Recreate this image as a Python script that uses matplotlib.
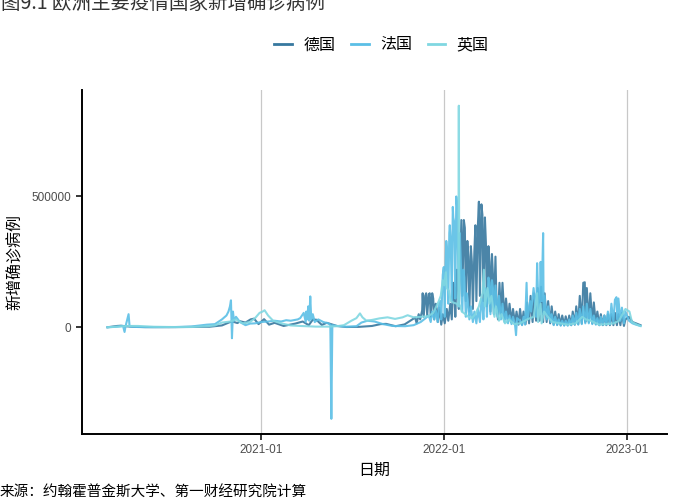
import matplotlib
matplotlib.use('Agg')
import matplotlib.pyplot as plt
import matplotlib.dates as mdates
import numpy as np
import pandas as pd

plt.rcParams['font.family'] = ['Noto Sans CJK SC', 'DejaVu Sans']

# DATA (daily new cases, thousands) ------------------------------------------

de_dates = ['2020-03-01', '2020-03-20', '2020-03-28', '2020-04-05', '2020-04-20', '2020-05-15',
            '2020-07-01', '2020-08-15', '2020-09-20', '2020-10-15', '2020-10-30', '2020-11-05',
            '2020-11-15', '2020-11-20', '2020-12-01', '2020-12-11', '2020-12-18', '2020-12-27',
            '2021-01-07', '2021-01-17', '2021-01-28', '2021-02-15', '2021-03-10', '2021-03-25',
            '2021-04-06', '2021-04-14', '2021-04-21', '2021-05-02', '2021-05-12', '2021-06-01',
            '2021-06-20', '2021-07-15', '2021-08-10', '2021-08-27', '2021-09-07', '2021-09-26',
            '2021-10-14', '2021-10-28', '2021-11-04', '2021-11-07', '2021-11-11', '2021-11-14',
            '2021-11-18', '2021-11-19', '2021-11-21', '2021-11-24', '2021-11-26', '2021-11-28',
            '2021-12-01', '2021-12-03', '2021-12-05', '2021-12-08', '2021-12-10', '2021-12-12',
            '2021-12-15', '2021-12-17', '2021-12-19', '2021-12-22', '2021-12-26', '2021-12-29',
            '2022-01-02', '2022-01-06', '2022-01-09', '2022-01-13', '2022-01-16', '2022-01-19',
            '2022-01-21', '2022-01-23', '2022-01-26', '2022-01-28', '2022-01-30', '2022-02-02',
            '2022-02-04', '2022-02-06', '2022-02-09', '2022-02-11', '2022-02-13', '2022-02-16',
            '2022-02-18', '2022-02-20', '2022-02-23', '2022-02-25', '2022-02-27', '2022-03-02',
            '2022-03-04', '2022-03-06', '2022-03-09', '2022-03-11', '2022-03-13', '2022-03-16',
            '2022-03-18', '2022-03-20', '2022-03-23', '2022-03-25', '2022-03-27', '2022-03-30',
            '2022-04-01', '2022-04-03', '2022-04-06', '2022-04-08', '2022-04-10', '2022-04-13',
            '2022-04-15', '2022-04-18', '2022-04-21', '2022-04-24', '2022-04-27', '2022-05-01',
            '2022-05-04', '2022-05-08', '2022-05-11', '2022-05-15', '2022-05-18', '2022-05-22',
            '2022-05-25', '2022-05-29', '2022-06-01', '2022-06-05', '2022-06-08', '2022-06-12',
            '2022-06-15', '2022-06-19', '2022-06-22', '2022-06-26', '2022-06-29', '2022-07-03',
            '2022-07-06', '2022-07-10', '2022-07-13', '2022-07-17', '2022-07-20', '2022-07-24',
            '2022-07-27', '2022-07-31', '2022-08-03', '2022-08-07', '2022-08-10', '2022-08-14',
            '2022-08-17', '2022-08-21', '2022-08-24', '2022-08-28', '2022-08-31', '2022-09-04',
            '2022-09-07', '2022-09-11', '2022-09-14', '2022-09-18', '2022-09-21', '2022-09-25',
            '2022-09-28', '2022-10-02', '2022-10-05', '2022-10-08', '2022-10-09', '2022-10-12',
            '2022-10-16', '2022-10-19', '2022-10-23', '2022-10-26', '2022-10-30', '2022-11-02',
            '2022-11-06', '2022-11-09', '2022-11-13', '2022-11-16', '2022-11-20', '2022-11-23',
            '2022-11-27', '2022-11-30', '2022-12-04', '2022-12-07', '2022-12-11', '2022-12-14',
            '2022-12-18', '2022-12-21', '2022-12-25', '2022-12-28', '2023-01-04', '2023-01-11',
            '2023-01-18', '2023-01-27']
de_vals = [0, 5, 6, 4, 2, 0.5,
           0.4, 1.5, 2, 7, 19, 22,
           16, 23, 18, 30, 33, 12,
           31, 10, 17, 5, 14, 22,
           8, 29, 29, 9, 17, 5,
           1, 1.5, 5, 12, 13, 4,
           11, 28, 37, 15, 50, 30,
           65, 130, 40, 120, 130, 45,
           125, 130, 40, 130, 110, 30,
           90, 70, 20, 75, 10, 50,
           15, 70, 25, 90, 30, 170,
           150, 40, 220, 200, 70, 280,
           410, 120, 410, 380, 100, 330,
           270, 60, 310, 250, 70, 290,
           390, 100, 390, 480, 120, 470,
           430, 100, 420, 320, 80, 310,
           250, 60, 280, 200, 50, 270,
           100, 30, 170, 40, 170, 30,
           110, 25, 90, 20, 70, 15,
           60, 10, 70, 10, 60, 12,
           95, 15, 120, 20, 130, 25,
           150, 25, 155, 20, 130, 20,
           100, 15, 80, 10, 60, 10,
           50, 8, 45, 8, 42, 8,
           45, 8, 60, 10, 80, 12,
           120, 15, 170, 172, 20, 150,
           20, 130, 15, 95, 12, 60,
           8, 50, 8, 45, 8, 50,
           8, 50, 8, 55, 8, 50,
           8, 55, 5, 30, 40, 20,
           15, 8]

fr_dates = ['2020-03-01', '2020-03-20', '2020-04-01', '2020-04-04', '2020-04-06', '2020-04-12',
            '2020-04-14', '2020-04-20', '2020-05-01', '2020-06-01', '2020-07-15', '2020-08-15',
            '2020-09-01', '2020-09-15', '2020-10-01', '2020-10-15', '2020-10-24', '2020-10-28',
            '2020-10-31', '2020-11-02', '2020-11-04', '2020-11-06', '2020-11-08', '2020-11-12',
            '2020-11-20', '2020-12-01', '2020-12-10', '2020-12-20', '2021-01-01', '2021-01-15',
            '2021-01-28', '2021-02-10', '2021-02-20', '2021-03-01', '2021-03-15', '2021-03-20',
            '2021-03-27', '2021-03-31', '2021-04-01', '2021-04-03', '2021-04-05', '2021-04-07',
            '2021-04-09', '2021-04-11', '2021-04-14', '2021-04-18', '2021-04-25', '2021-05-05',
            '2021-05-15', '2021-05-19', '2021-05-21', '2021-05-23', '2021-06-01', '2021-06-20',
            '2021-07-10', '2021-07-20', '2021-08-01', '2021-08-15', '2021-09-01', '2021-09-20',
            '2021-10-15', '2021-11-01', '2021-11-15', '2021-11-25', '2021-12-01', '2021-12-05',
            '2021-12-08', '2021-12-12', '2021-12-15', '2021-12-19', '2021-12-22', '2021-12-25',
            '2021-12-26', '2021-12-29', '2021-12-31', '2022-01-02', '2022-01-04', '2022-01-05',
            '2022-01-07', '2022-01-09', '2022-01-11', '2022-01-12', '2022-01-14', '2022-01-16',
            '2022-01-18', '2022-01-19', '2022-01-21', '2022-01-23', '2022-01-25', '2022-01-27',
            '2022-01-30', '2022-02-01', '2022-02-03', '2022-02-06', '2022-02-08', '2022-02-10',
            '2022-02-13', '2022-02-15', '2022-02-17', '2022-02-20', '2022-02-23', '2022-02-27',
            '2022-03-02', '2022-03-06', '2022-03-09', '2022-03-13', '2022-03-16', '2022-03-18',
            '2022-03-20', '2022-03-23', '2022-03-25', '2022-03-27', '2022-03-30', '2022-04-01',
            '2022-04-03', '2022-04-06', '2022-04-08', '2022-04-10', '2022-04-13', '2022-04-17',
            '2022-04-20', '2022-04-24', '2022-04-27', '2022-05-01', '2022-05-04', '2022-05-08',
            '2022-05-11', '2022-05-15', '2022-05-18', '2022-05-22', '2022-05-24', '2022-05-26',
            '2022-06-01', '2022-06-05', '2022-06-08', '2022-06-11', '2022-06-14', '2022-06-16',
            '2022-06-21', '2022-06-23', '2022-06-28', '2022-06-30', '2022-07-03', '2022-07-05',
            '2022-07-07', '2022-07-10', '2022-07-12', '2022-07-14', '2022-07-17', '2022-07-18',
            '2022-07-20', '2022-07-24', '2022-07-27', '2022-08-01', '2022-08-03', '2022-08-07',
            '2022-08-10', '2022-08-14', '2022-08-17', '2022-08-21', '2022-08-24', '2022-08-28',
            '2022-08-31', '2022-09-04', '2022-09-07', '2022-09-11', '2022-09-14', '2022-09-18',
            '2022-09-21', '2022-09-25', '2022-09-28', '2022-10-02', '2022-10-05', '2022-10-09',
            '2022-10-12', '2022-10-16', '2022-10-19', '2022-10-23', '2022-10-26', '2022-10-30',
            '2022-11-02', '2022-11-06', '2022-11-09', '2022-11-13', '2022-11-16', '2022-11-20',
            '2022-11-23', '2022-11-27', '2022-11-30', '2022-12-04', '2022-12-07', '2022-12-10',
            '2022-12-12', '2022-12-14', '2022-12-18', '2022-12-21', '2022-12-25', '2022-12-28',
            '2023-01-04', '2023-01-11', '2023-01-18', '2023-01-27']
fr_vals = [0, 2, 5, -18, 4, 50,
           3, 2, 1, 0.5, 1, 3,
           7, 10, 12, 30, 45, 60,
           80, 103, -42, 60, 25, 40,
           20, 8, 14, 15, 20, 22,
           25, 22, 27, 25, 30, 35,
           55, 20, 60, 30, 80, 25,
           118, 30, 50, 20, 30, 20,
           15, 10, -350, 8, 5, 2,
           4, 18, 25, 22, 12, 5,
           4, 8, 20, 35, 45, 20,
           60, 30, 65, 20, 90, 100,
           30, 200, 230, 40, 270, 330,
           290, 90, 360, 390, 320, 100,
           460, 420, 400, 110, 500, 450,
           80, 360, 250, 60, 220, 190,
           40, 130, 100, 30, 80, 20,
           60, 15, 70, 20, 110, 90,
           30, 150, 140, 40, 190, 170,
           50, 180, 150, 50, 160, 40,
           120, 30, 90, 20, 60, 15,
           45, 12, 40, 10, -30, 35,
           25, 8, 40, 10, 170, 30,
           100, 60, 150, 110, 40, 245,
           120, 50, 250, 100, 360, 50,
           120, 30, 80, 20, 50, 8,
           40, 8, 30, 6, 25, 6,
           25, 6, 30, 8, 45, 10,
           55, 10, 70, 12, 80, 15,
           90, 15, 70, 12, 45, 10,
           35, 8, 40, 10, 45, 10,
           60, 12, 90, 20, 105, 115,
           30, 110, 25, 75, 15, 60,
           25, 15, 10, 5]

uk_dates = ['2020-03-01', '2020-04-10', '2020-05-01', '2020-06-01', '2020-07-15', '2020-08-15',
            '2020-09-15', '2020-10-01', '2020-10-15', '2020-11-01', '2020-11-12', '2020-11-25',
            '2020-12-10', '2020-12-20', '2020-12-29', '2021-01-04', '2021-01-08', '2021-01-15',
            '2021-01-25', '2021-02-10', '2021-03-01', '2021-03-20', '2021-04-20', '2021-05-15',
            '2021-06-01', '2021-06-15', '2021-06-30', '2021-07-10', '2021-07-17', '2021-07-22',
            '2021-07-30', '2021-08-10', '2021-08-25', '2021-09-10', '2021-09-25', '2021-10-10',
            '2021-10-20', '2021-11-01', '2021-11-15', '2021-11-30', '2021-12-10', '2021-12-15',
            '2021-12-20', '2021-12-25', '2021-12-29', '2022-01-01', '2022-01-04', '2022-01-06',
            '2022-01-10', '2022-01-14', '2022-01-18', '2022-01-26', '2022-01-29', '2022-01-30',
            '2022-01-31', '2022-02-05', '2022-02-12', '2022-02-18', '2022-02-25', '2022-03-04',
            '2022-03-11', '2022-03-18', '2022-03-21', '2022-03-23', '2022-03-28', '2022-04-01',
            '2022-04-05', '2022-04-11', '2022-04-14', '2022-04-20', '2022-04-25', '2022-05-02',
            '2022-05-10', '2022-05-20', '2022-06-01', '2022-06-15', '2022-06-28', '2022-07-05',
            '2022-07-07', '2022-07-12', '2022-07-14', '2022-07-19', '2022-07-26', '2022-08-05',
            '2022-08-20', '2022-09-05', '2022-09-20', '2022-10-03', '2022-10-10', '2022-10-20',
            '2022-11-05', '2022-11-20', '2022-12-05', '2022-12-15', '2022-12-28', '2023-01-05',
            '2023-01-10', '2023-01-20', '2023-01-27']
uk_vals = [0, 5, 5, 2, 0.7, 1,
           4, 7, 18, 22, 30, 15,
           20, 35, 55, 60, 65, 45,
           25, 15, 7, 5, 2.5, 2.5,
           4, 8, 25, 35, 53, 38,
           25, 28, 34, 38, 32, 38,
           46, 38, 40, 42, 55, 75,
           95, 120, 180, 160, 210, 150,
           140, 100, 95, 90, 80, 847,
           90, 60, 50, 40, 35, 50,
           80, 130, 220, 80, 150, 90,
           120, 40, 80, 25, 50, 15,
           30, 12, 15, 30, 40, 130,
           20, 90, 15, 60, 40, 20,
           15, 10, 15, 40, 30, 25,
           10, 12, 15, 25, 70, 60,
           20, 10, 5]

countries = ['德国', '法国', '英国']
colors = ['#37789f', '#5bbfe6', '#80d7e1']

# PLOT ------------------------------------------------------------------------

fig = plt.figure(figsize=(7, 5), dpi=100)
ax = fig.add_axes([0.117, 0.132, 0.836, 0.688])

for dates, vals, name, col in zip([de_dates, fr_dates, uk_dates],
                                  [de_vals, fr_vals, uk_vals], countries, colors):
    ax.plot(pd.to_datetime(dates), np.array(vals) * 1000, color=col, lw=1.5,
            alpha=0.9, label=name)

ax.set_xlim(pd.Timestamp('2020-01-10'), pd.Timestamp('2023-03-21'))
ax.set_ylim(-408000, 907000)
ax.set_yticks([0, 500000])
ax.set_yticklabels(['0', '500000'])
ax.xaxis.set_major_locator(mdates.YearLocator())
ax.xaxis.set_major_formatter(mdates.DateFormatter('%Y-%m'))
ax.grid(axis='x', color='#c8c8c8', lw=0.9)
ax.set_axisbelow(True)

for s in ['top', 'right']:
    ax.spines[s].set_visible(False)
for s in ['left', 'bottom']:
    ax.spines[s].set_linewidth(1.4)
    ax.spines[s].set_color('black')
ax.tick_params(length=4, width=1.1, color='black', labelcolor='#4d4d4d', labelsize=8.5)
for lab in ax.get_xticklabels() + ax.get_yticklabels():
    lab.set_family('Liberation Sans')

ax.set_xlabel('日期', fontsize=11.5, labelpad=4)
ax.set_ylabel('新增确诊病例', fontsize=11.5, labelpad=6)

leg = fig.legend(loc='center', bbox_to_anchor=(0.545, 0.91), ncol=3, frameon=False,
                 fontsize=11.5, handlelength=1.1, columnspacing=1.0, handletextpad=0.7)
for h in leg.get_lines():
    h.set_linewidth(2)
    h.set_alpha(1)

fig.text(0.002, 0.993, '图9.1 欧洲主要疫情国家新增确诊病例', fontsize=14, color='#333333',
         ha='left', va='center')
fig.text(0.0, 0.014, '来源：约翰霍普金斯大学、第一财经研究院计算', fontsize=10.5,
         ha='left', va='center')

fig.savefig('out.png', dpi=100)
